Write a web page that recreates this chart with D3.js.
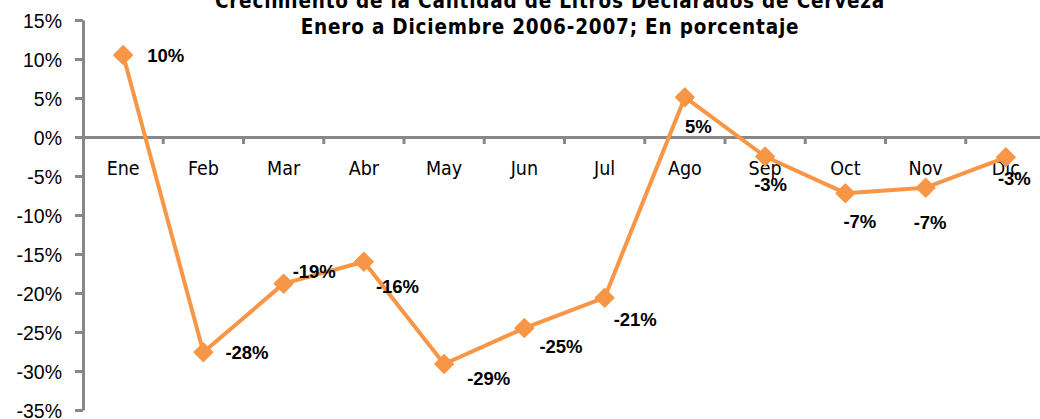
<!DOCTYPE html>
<html><head><meta charset="utf-8">
<script src="https://cdn.jsdelivr.net/npm/d3@7"></script>
<style>html,body{margin:0;padding:0;background:#fff;overflow:hidden}</style>
</head><body>
<svg id="c" width="1040" height="419"></svg>
<script>
const titleLines = ["Crecimiento de la Cantidad de Litros Declarados de Cerveza", "Enero a Diciembre 2006-2007; En porcentaje"];
const months = ["Ene","Feb","Mar","Abr","May","Jun","Jul","Ago","Sep","Oct","Nov","Dic"];
const growth = [10.5, -27.6, -18.8, -16.0, -29.1, -24.5, -20.6, 5.1, -2.5, -7.2, -6.5, -2.6];
const growthLabels = ["10%","-28%","-19%","-16%","-29%","-25%","-21%","5%","-3%","-7%","-7%","-3%"];
const yTicks = [15, 10, 5, 0, -5, -10, -15, -20, -25, -30, -35];
// label offsets relative to marker (layout, not data)
const labelOffsets = [[24,7],[22,7],[9,-6],[12,31],[23,21],[15,25],[9,28],[0,36],[-11,34],[-2,35],[-12,41],[-8,28]];

const svg = d3.select("#c");
const x = d3.scaleBand().domain(months).range([83, 1046]);
const y = d3.scaleLinear().domain([-35, 15]).range([410, 20]);
const axisColor = "#878787";
const orange = "#F79646";

// title
svg.append("g").selectAll("text").data(titleLines).join("text")
  .attr("x", 550).attr("y", (d,i) => 8 + i*25.5)
  .attr("text-anchor", "middle")
  .style("font-family", "'DejaVu Sans Condensed','DejaVu Sans',sans-serif")
  .style("font-weight", "bold").style("font-size", "20.5px").style("letter-spacing", "0.8px")
  .attr("fill", "#000").text(d => d);

// y axis
const yAxis = svg.append("g").attr("transform", "translate(83,0)")
  .call(d3.axisLeft(y).tickValues(yTicks).tickFormat(d => d + "%").tickSize(8).tickSizeOuter(0));
yAxis.select(".domain").attr("stroke", axisColor).attr("stroke-width", 3);
yAxis.selectAll(".tick line").attr("stroke", axisColor).attr("stroke-width", 3);
yAxis.selectAll(".tick text").attr("x", -21).attr("dy", "0.36em")
  .style("font-family", "'Liberation Sans',Arial,sans-serif").style("font-size", "19.5px").attr("fill", "#000");

// x axis at 0
const xAxis = svg.append("g").attr("transform", `translate(0,${y(0)})`)
  .call(d3.axisBottom(x).tickSize(0).tickSizeOuter(0));
xAxis.select(".domain").attr("stroke", axisColor).attr("stroke-width", 3);
xAxis.selectAll(".tick text").attr("y", 38).attr("dy", 0)
  .style("font-family", "'DejaVu Sans Condensed','DejaVu Sans',sans-serif").style("font-size", "19.5px").attr("fill", "#000");
// category boundary ticks
svg.append("g").selectAll("line").data(months.slice(1)).join("line")
  .attr("x1", d => x(d)).attr("x2", d => x(d))
  .attr("y1", y(0)).attr("y2", y(0) + 7)
  .attr("stroke", axisColor).attr("stroke-width", 3);

// line
const pts = months.map((m,i) => ({m, v: growth[i], label: growthLabels[i], off: labelOffsets[i]}));
const cx = d => x(d.m) + x.bandwidth()/2;
svg.append("path").datum(pts)
  .attr("d", d3.line().x(cx).y(d => y(d.v)))
  .attr("fill", "none").attr("stroke", orange).attr("stroke-width", 4).attr("stroke-linejoin", "round");

svg.append("g").selectAll("path").data(pts).join("path")
  .attr("d", d3.symbol().type(d3.symbolSquare).size(170))
  .attr("transform", d => `translate(${cx(d)},${y(d.v)}) rotate(45)`)
  .attr("fill", orange).attr("stroke", orange).attr("stroke-width", 1.5).attr("stroke-linejoin", "round");

svg.append("g").selectAll("text").data(pts).join("text")
  .attr("x", d => cx(d) + d.off[0]).attr("y", d => y(d.v) + d.off[1])
  .style("font-family", "'Liberation Sans',Arial,sans-serif").style("font-weight", "bold").style("font-size", "18.5px")
  .attr("fill", "#000").text(d => d.label);
</script>
</body></html>
